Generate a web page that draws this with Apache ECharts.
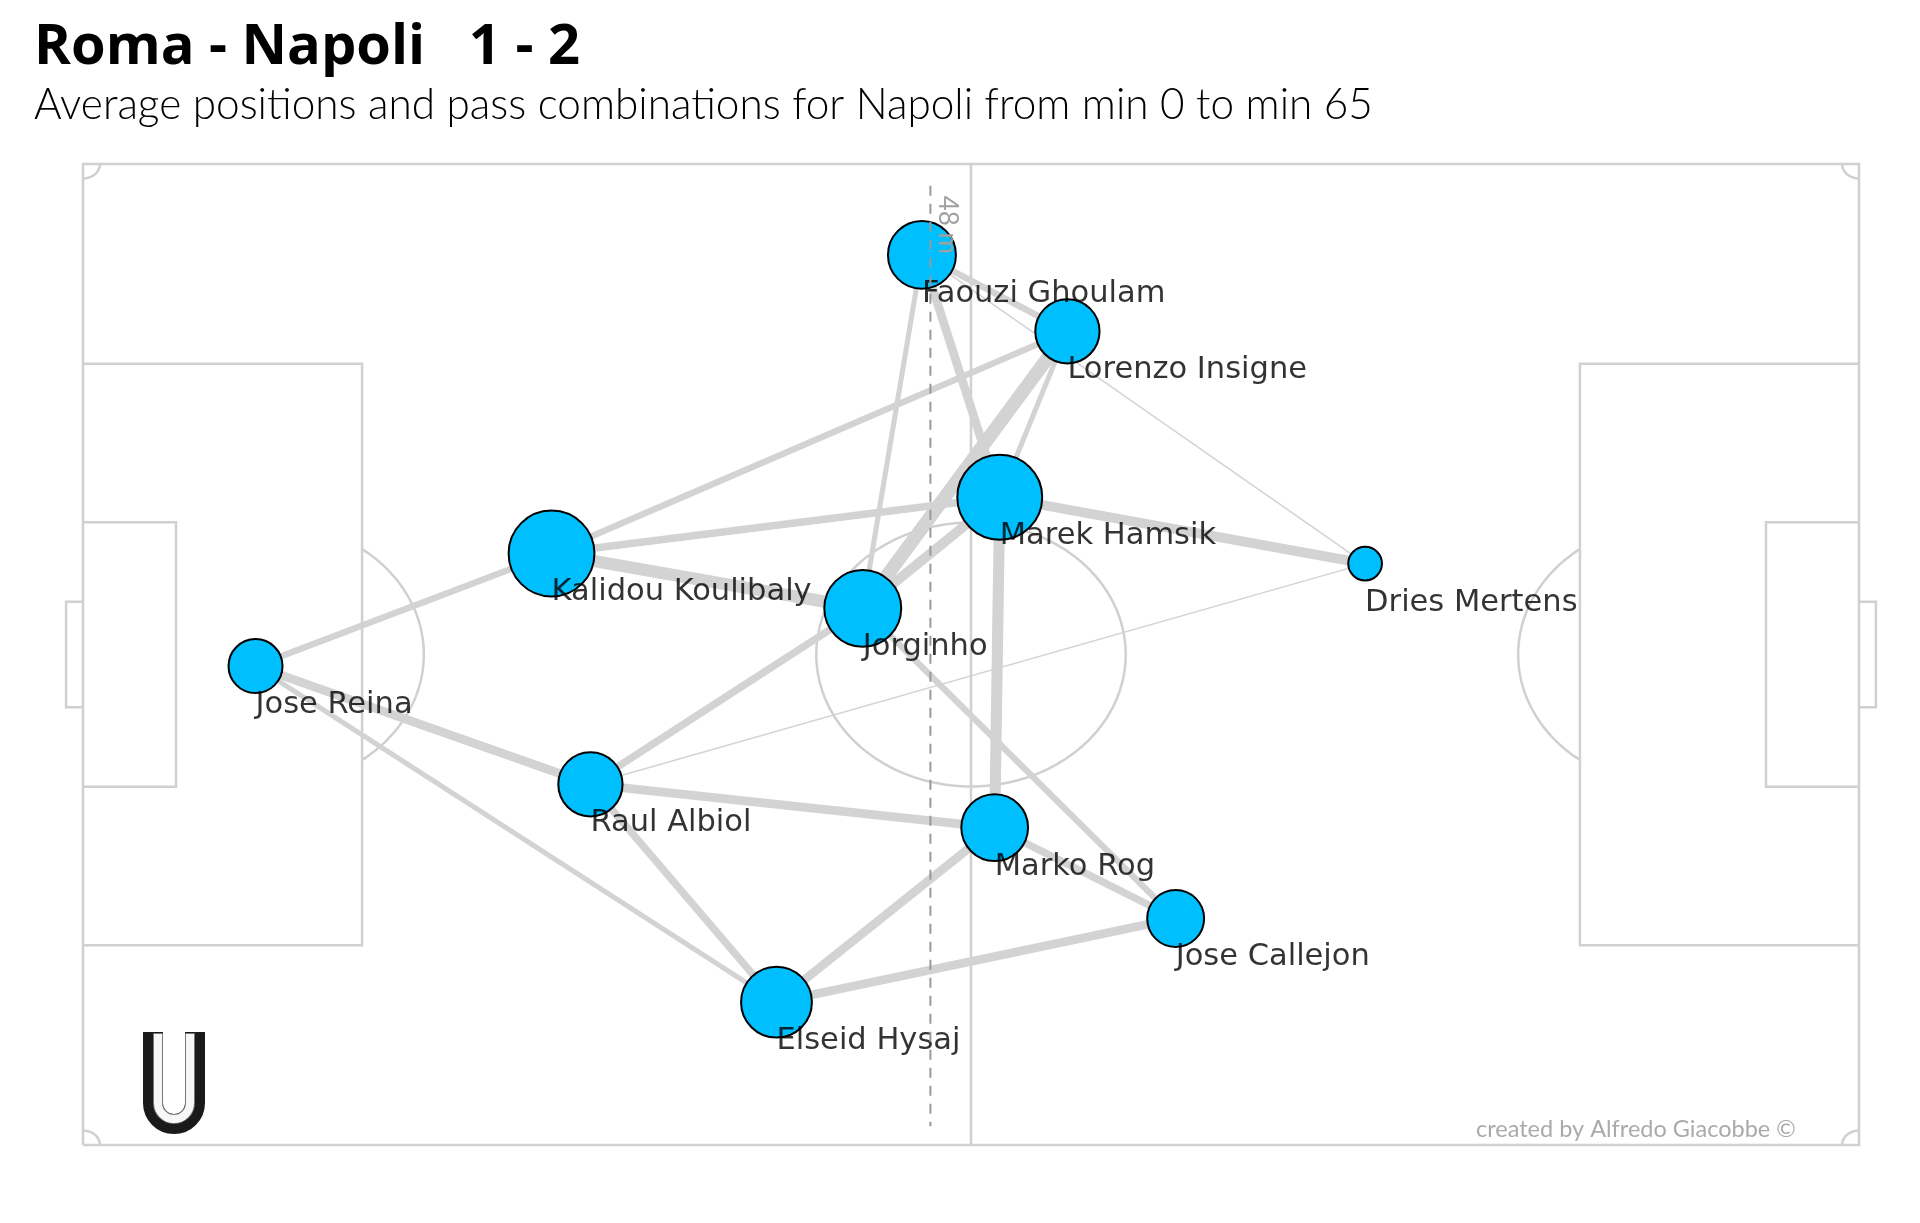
<!DOCTYPE html>
<html>
<head>
<meta charset="utf-8">
<title>Roma - Napoli pass network</title>
<script src="https://cdn.jsdelivr.net/npm/echarts@6/dist/echarts.min.js"></script>
<style>
  html, body { margin: 0; padding: 0; background: #fff; }
  #chart { width: 1920px; height: 1223px; }
</style>
</head>
<body>
<div id="chart"></div>
<script>
// average positions on a 105 x 68 pitch (metres), Napoli, min 0 - 65
const playerNames = ['Jose Reina', 'Kalidou Koulibaly', 'Raul Albiol', 'Elseid Hysaj', 'Faouzi Ghoulam',
  'Jorginho', 'Marek Hamsik', 'Marko Rog', 'Lorenzo Insigne', 'Jose Callejon', 'Dries Mertens'];
const avgX = [10.2, 27.7, 30.0, 41.0, 49.6, 46.1, 54.2, 53.9, 58.2, 64.6, 75.8];
const avgY = [33.2, 41.0, 25.0, 9.9, 61.7, 37.2, 44.9, 22.0, 56.4, 15.7, 40.3];
// passes played by each player (node size)
const passCount = [36, 91, 51, 62, 57, 73, 89, 55, 51, 40, 14];

// pass combinations between two players
const passLinks = [
  ['Jose Reina', 'Kalidou Koulibaly', 5],
  ['Jose Reina', 'Raul Albiol', 7],
  ['Jose Reina', 'Elseid Hysaj', 4],
  ['Kalidou Koulibaly', 'Jorginho', 10],
  ['Kalidou Koulibaly', 'Marek Hamsik', 6],
  ['Kalidou Koulibaly', 'Lorenzo Insigne', 5],
  ['Raul Albiol', 'Jorginho', 6],
  ['Raul Albiol', 'Marko Rog', 7],
  ['Raul Albiol', 'Elseid Hysaj', 6],
  ['Raul Albiol', 'Dries Mertens', 1],
  ['Jorginho', 'Marek Hamsik', 8],
  ['Jorginho', 'Lorenzo Insigne', 11],
  ['Jorginho', 'Faouzi Ghoulam', 4],
  ['Jorginho', 'Jose Callejon', 5],
  ['Faouzi Ghoulam', 'Marek Hamsik', 7],
  ['Marek Hamsik', 'Lorenzo Insigne', 4],
  ['Marek Hamsik', 'Dries Mertens', 8],
  ['Marek Hamsik', 'Marko Rog', 9],
  ['Faouzi Ghoulam', 'Lorenzo Insigne', 5],
  ['Faouzi Ghoulam', 'Dries Mertens', 1],
  ['Marko Rog', 'Jose Callejon', 6],
  ['Marko Rog', 'Elseid Hysaj', 7],
  ['Elseid Hysaj', 'Jose Callejon', 7]
];

// average team line (outfield players)
const teamLineX = 50.1;
const teamLineLabel = '48 m';

const titleText = 'Roma - Napoli   1 - 2';
const subtitleText = 'Average positions and pass combinations for Napoli from min 0 to min 65';
const creditText = 'created by Alfredo Giacobbe \u00A9';

// pitch dimensions
const PITCH_LEN = 105, PITCH_WID = 68;
const BOX_LEN = 16.5, BOX_WID = 40.32;
const SIX_LEN = 5.5, SIX_WID = 18.32;
const GOAL_WID = 7.32, GOAL_DEPTH = 1;
const CIRCLE_R = 9.15, SPOT = 11;

const FONT = 'Lato, "Open Sans", sans-serif';
const LABEL_FONT = '"DejaVu Sans", sans-serif';
const PITCH_COLOR = '#d0d0d0';

const chart = echarts.init(document.getElementById('chart'));

function renderPitch(params, api) {
  const style = { stroke: PITCH_COLOR, lineWidth: 2.5, fill: null };
  const c = (x, y) => api.coord([x, y]);
  const poly = pts => ({ type: 'polyline', shape: { points: pts.map(p => c(p[0], p[1])) }, style: style });
  const arc = (cx, cy, r, a0, a1) => {
    const pts = [];
    for (let i = 0; i <= 90; i++) {
      const a = (a0 + (a1 - a0) * i / 90) * Math.PI / 180;
      pts.push([cx + r * Math.cos(a), cy + r * Math.sin(a)]);
    }
    return poly(pts);
  };
  const mid = PITCH_WID / 2, L = PITCH_LEN;
  const halfBox = BOX_WID / 2, halfSix = SIX_WID / 2, halfGoal = GOAL_WID / 2;
  const arcA = Math.acos((BOX_LEN - SPOT) / CIRCLE_R) * 180 / Math.PI;
  return {
    type: 'group',
    children: [
      poly([[0, 0], [L, 0], [L, PITCH_WID], [0, PITCH_WID], [0, 0]]),
      poly([[L / 2, 0], [L / 2, PITCH_WID]]),
      poly([[0, mid - halfBox], [BOX_LEN, mid - halfBox], [BOX_LEN, mid + halfBox], [0, mid + halfBox]]),
      poly([[L, mid - halfBox], [L - BOX_LEN, mid - halfBox], [L - BOX_LEN, mid + halfBox], [L, mid + halfBox]]),
      poly([[0, mid - halfSix], [SIX_LEN, mid - halfSix], [SIX_LEN, mid + halfSix], [0, mid + halfSix]]),
      poly([[L, mid - halfSix], [L - SIX_LEN, mid - halfSix], [L - SIX_LEN, mid + halfSix], [L, mid + halfSix]]),
      poly([[0, mid - halfGoal], [-GOAL_DEPTH, mid - halfGoal], [-GOAL_DEPTH, mid + halfGoal], [0, mid + halfGoal]]),
      poly([[L, mid - halfGoal], [L + GOAL_DEPTH, mid - halfGoal], [L + GOAL_DEPTH, mid + halfGoal], [L, mid + halfGoal]]),
      arc(L / 2, mid, CIRCLE_R, 0, 360),
      arc(SPOT, mid, CIRCLE_R, -arcA, arcA),
      arc(L - SPOT, mid, CIRCLE_R, 180 - arcA, 180 + arcA),
      arc(0, 0, 1, 0, 90),
      arc(L, 0, 1, 90, 180),
      arc(L, PITCH_WID, 1, 180, 270),
      arc(0, PITCH_WID, 1, 270, 360)
    ]
  };
}

function renderTeamLine(params, api) {
  const x = api.value(0);
  const top = api.coord([x, 66.5]);
  const bottom = api.coord([x, 1.3]);
  const lbl = api.coord([x, 65.8]);
  return {
    type: 'group',
    children: [
      {
        type: 'line',
        shape: { x1: top[0], y1: top[1], x2: bottom[0], y2: bottom[1] },
        style: { stroke: '#999', lineWidth: 2, lineDash: [10, 8] }
      },
      {
        type: 'text',
        x: lbl[0] + 4, y: lbl[1],
        rotation: -Math.PI / 2,
        style: {
          text: teamLineLabel, fill: '#a0a0a0', font: '26px ' + FONT,
          align: 'left', verticalAlign: 'bottom'
        }
      }
    ]
  };
}

const idx = name => playerNames.indexOf(name);
const playerData = playerNames.map((n, i) => ({ name: n, value: [avgX[i], avgY[i], passCount[i]] }));

const option = {
  backgroundColor: '#fff',
  animation: false,
  title: [
    {
      text: titleText, left: 34, top: 20, padding: 0,
      textStyle: { fontFamily: '"Open Sans", Lato, sans-serif', fontSize: 56, fontWeight: 'bold', color: '#000' }
    },
    {
      text: subtitleText, left: 34, top: 84, padding: 0,
      textStyle: { fontFamily: FONT, fontSize: 42.3, fontWeight: 300, color: '#000' }
    }
  ],
  grid: { left: 83, top: 164, width: 1776, height: 981 },
  xAxis: { type: 'value', min: 0, max: PITCH_LEN, show: false },
  yAxis: { type: 'value', min: 0, max: PITCH_WID, show: false },
  graphic: [
    {
      type: 'text', left: 1476, top: 1117,
      style: { text: creditText, fill: '#aaa', font: '23.5px ' + FONT }
    },
    {
      type: 'group', left: 143, top: 1022,
      children: [
        { type: 'polyline', shape: { points: [[10, 0], [10, 71]] }, style: { stroke: '#1a1a1a', lineWidth: 20 } },
        { type: 'polyline', shape: { points: [[52, 0], [52, 71]] }, style: { stroke: '#1a1a1a', lineWidth: 20 } },
        { type: 'arc', shape: { cx: 31, cy: 71, r: 21, startAngle: 0, endAngle: Math.PI }, style: { stroke: '#1a1a1a', lineWidth: 20, fill: null } },
        { type: 'polyline', shape: { points: [[15, 1], [15, 71]] }, style: { stroke: '#777', lineWidth: 10 } },
        { type: 'polyline', shape: { points: [[47, 1], [47, 71]] }, style: { stroke: '#777', lineWidth: 10 } },
        { type: 'arc', shape: { cx: 31, cy: 71, r: 16, startAngle: 0, endAngle: Math.PI }, style: { stroke: '#777', lineWidth: 10, fill: null } },
        { type: 'polyline', shape: { points: [[15, 2], [15, 71]] }, style: { stroke: '#f7f7f7', lineWidth: 8 } },
        { type: 'polyline', shape: { points: [[47, 2], [47, 71]] }, style: { stroke: '#f7f7f7', lineWidth: 8 } },
        { type: 'arc', shape: { cx: 31, cy: 71, r: 16, startAngle: 0, endAngle: Math.PI }, style: { stroke: '#f7f7f7', lineWidth: 8, fill: null } }
      ]
    }
  ],
  series: [
    {
      type: 'custom', renderItem: renderPitch, data: [[0, 0]], clip: false, silent: true, z: 1
    },
    {
      type: 'lines', coordinateSystem: 'cartesian2d', silent: true, z: 2,
      lineStyle: { color: '#d3d3d3', opacity: 1, curveness: 0 },
      data: passLinks.map(([a, b, n]) => ({
        coords: [[avgX[idx(a)], avgY[idx(a)]], [avgX[idx(b)], avgY[idx(b)]]],
        lineStyle: { width: 1.2 * n + 0.3 }
      }))
    },
    {
      type: 'scatter', silent: true, z: 3,
      data: playerData,
      symbolSize: v => 9 * Math.sqrt(v[2]),
      itemStyle: { color: '#00BFFF', borderColor: '#000', borderWidth: 2, opacity: 1 }
    },
    {
      type: 'scatter', silent: true, z: 4,
      data: playerData,
      symbolSize: 0,
      label: {
        show: true, position: 'inside', align: 'left', verticalAlign: 'middle',
        offset: [0, 39], formatter: p => p.name,
        fontFamily: LABEL_FONT, fontSize: 30.5, color: '#000'
      }
    },
    {
      type: 'custom', renderItem: renderTeamLine, data: [[teamLineX]], clip: false, silent: true, z: 5
    }
  ]
};

chart.setOption(option);
</script>
</body>
</html>
